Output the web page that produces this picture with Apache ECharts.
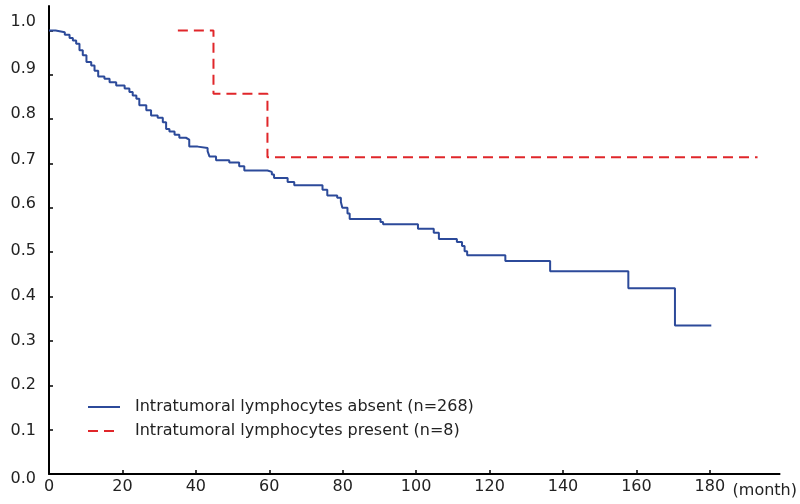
<!DOCTYPE html>
<html>
<head>
<meta charset="utf-8">
<script src="https://cdn.jsdelivr.net/npm/echarts@6/dist/echarts.min.js"></script>
<style>
html,body{margin:0;padding:0;background:#fff;}
#chart{width:800px;height:504px;}
</style>
</head>
<body>
<div id="chart"></div>
<script>
// Kaplan-Meier curve: intratumoral lymphocytes absent (n=268) — [month, survival]
var absentCurve = [
  [0,1.0],[1.8,0.996],[4.3,0.990],[5.6,0.983],[6.5,0.977],[7.4,0.970],[8.3,0.955],
  [9.2,0.944],[10.2,0.929],[11.5,0.921],[12.4,0.909],[13.4,0.896],[15.1,0.891],
  [16.5,0.883],[18.3,0.876],[20.6,0.869],[21.9,0.861],[22.8,0.853],[23.8,0.846],
  [24.6,0.831],[26.5,0.820],[27.8,0.808],[29.6,0.803],[31.0,0.793],[31.9,0.778],
  [32.8,0.772],[34.2,0.765],[35.5,0.758],[37.3,0.754],[38.2,0.738],[40.5,0.735],
  [43.2,0.728],[43.7,0.716],[45.5,0.707],[49.1,0.702],[51.8,0.694],[53.2,0.684],
  [59.5,0.681],[60.7,0.675],[61.3,0.667],[65.0,0.658],[66.8,0.651],[74.5,0.641],
  [75.8,0.628],[78.5,0.623],[79.5,0.613],[79.9,0.600],[81.3,0.587],[81.9,0.575],
  [90.3,0.568],[91.0,0.563],[100.5,0.553],[104.8,0.544],[106.2,0.530],[111.1,0.523],
  [112.5,0.514],[113.2,0.502],[113.9,0.493],[124.3,0.480],[136.5,0.457],
  [157.8,0.419],[170.5,0.335],[180.4,0.335]
];
// Kaplan-Meier curve: intratumoral lymphocytes present (n=8)
var presentCurve = [[35.1,1.0],[44.8,0.857],[59.5,0.714],[193.0,0.714]];

var seriesNames = ['Intratumoral lymphocytes absent (n=268)', 'Intratumoral lymphocytes present (n=8)'];
var xTicks = [0,20,40,60,80,100,120,140,160,180];
var yTicks = [0,0.1,0.2,0.3,0.4,0.5,0.6,0.7,0.8,0.9,1.0];
var xUnit = '(month)';

var FONT = 'DejaVu Sans';
// small vertical nudges of the y tick labels, as drawn in the original figure (px, + = down)
var yLabelNudge = [4.5, 1, 0, -0.4, -0.7, -1.7, -3.5, -4, -5, -6.3, -9];
var yRich = {};
yLabelNudge.forEach(function (d, i) {
  var up = Math.max(0, -d), down = Math.max(0, d);
  yRich['s' + i] = {fontFamily: FONT, fontSize: 16, color: '#222', padding: [2 * down, 0, 2 * up, 0]};
});

var chart = echarts.init(document.getElementById('chart'), null, {renderer:'canvas'});
chart.setOption({
  animation: false,
  backgroundColor: '#ffffff',
  grid: {left: 49, right: 18, top: 6, bottom: 30, containLabel: false},
  legend: {
    orient: 'vertical', left: 87, top: 399, padding: 0, itemWidth: 32, itemHeight: 14, itemGap: 8,
    data: seriesNames,
    itemStyle: {opacity: 0},
    textStyle: {fontFamily: FONT, fontSize: 16, color: '#222', lineHeight: 16, padding: [0,0,0,10]}
  },
  xAxis: {
    type: 'value', min: 0, max: 199,
    axisLine: {show: true, lineStyle: {color: '#000', width: 2}},
    axisTick: {show: true, inside: true, length: 4, lineStyle: {color: '#000', width: 1.5}, customValues: xTicks},
    axisLabel: {customValues: xTicks, fontFamily: FONT, fontSize: 16, color: '#222', margin: 5},
    splitLine: {show: false},
    name: xUnit, nameLocation: 'end', nameGap: -47,
    nameTextStyle: {fontFamily: FONT, fontSize: 16, color: '#222', align: 'left', verticalAlign: 'top', padding: [9,0,0,0]}
  },
  yAxis: {
    type: 'value', min: 0, max: 1.055,
    axisLine: {show: true, lineStyle: {color: '#000', width: 2}},
    axisTick: {show: true, inside: true, length: 4, lineStyle: {color: '#000', width: 1.5}, customValues: yTicks},
    axisLabel: {customValues: yTicks, fontFamily: FONT, fontSize: 16, color: '#222', margin: 13,
      formatter: function (v) {
        var i = Math.round(v * 10);
        return '{s' + i + '|' + v.toFixed(1) + '}';
      },
      rich: yRich},
    splitLine: {show: false}
  },
  series: [
    {name: seriesNames[0], type: 'line', step: 'end', data: absentCurve, showSymbol: false, symbol: 'none',
     color: '#2c4a9a', lineStyle: {color: '#2c4a9a', width: 2}},
    {name: seriesNames[1], type: 'line', step: 'end', data: presentCurve, showSymbol: false, symbol: 'none',
     color: '#e0262a', lineStyle: {color: '#e0262a', width: 2, type: [10,6]}}
  ]
});
</script>
</body>
</html>
